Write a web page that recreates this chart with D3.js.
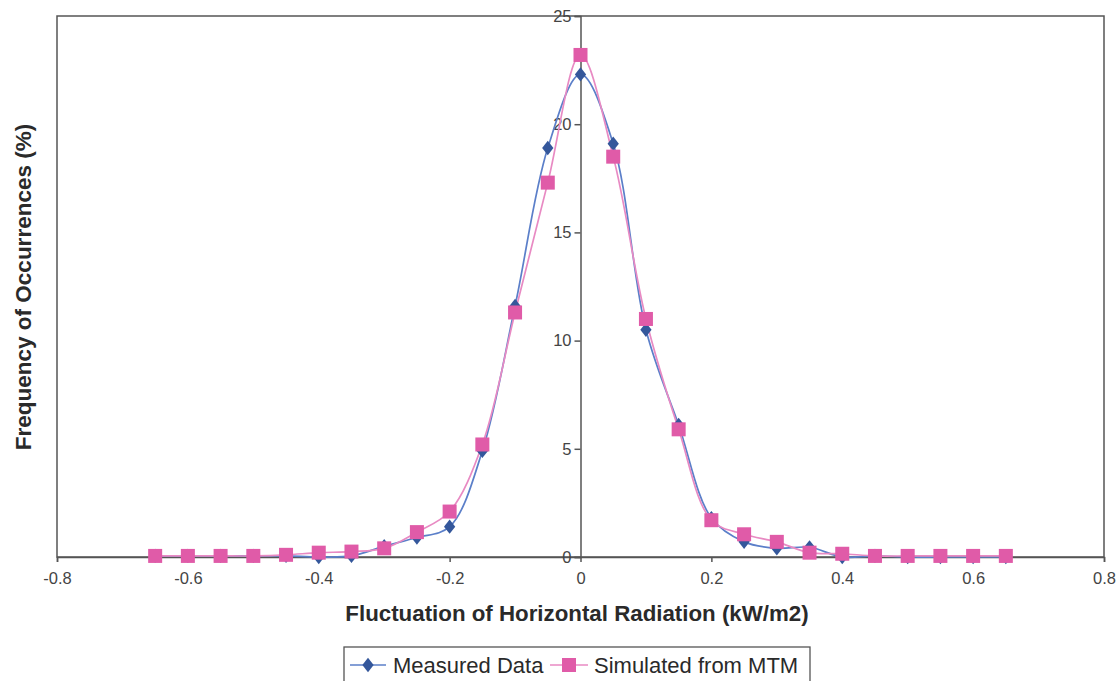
<!DOCTYPE html>
<html>
<head>
<meta charset="utf-8">
<script src="https://cdn.jsdelivr.net/npm/d3@7"></script>
<style>
  html, body { margin: 0; padding: 0; background: #fff; }
  svg { display: block; font-family: "Liberation Sans", Arial, sans-serif; }
</style>
</head>
<body>
<svg id="chart" width="1119" height="681"></svg>
<script>
// ---- data ----
const xValues = [-0.65, -0.6, -0.55, -0.5, -0.45, -0.4, -0.35, -0.3, -0.25, -0.2, -0.15, -0.1, -0.05,
                 0, 0.05, 0.1, 0.15, 0.2, 0.25, 0.3, 0.35, 0.4, 0.45, 0.5, 0.55, 0.6, 0.65];
const measured = [0.05, 0.05, 0.05, 0.05, 0.05, 0.0, 0.05, 0.5, 0.9, 1.4, 4.9, 11.6, 18.9,
                  22.3, 19.1, 10.5, 6.1, 1.8, 0.7, 0.4, 0.45, 0.0, 0.05, 0.0, 0.0, 0.0, 0.0];
const simulated = [0.05, 0.05, 0.05, 0.05, 0.1, 0.2, 0.25, 0.4, 1.15, 2.1, 5.2, 11.3, 17.3,
                   23.2, 18.5, 11.0, 5.9, 1.7, 1.05, 0.7, 0.2, 0.15, 0.05, 0.05, 0.05, 0.05, 0.05];
const xTicks = [-0.8, -0.6, -0.4, -0.2, 0, 0.2, 0.4, 0.6, 0.8];
const xTickLabels = ["-0.8", "-0.6", "-0.4", "-0.2", "0", "0.2", "0.4", "0.6", "0.8"];
const yTicks = [0, 5, 10, 15, 20, 25];
const yTickLabels = ["0", "5", "10", "15", "20", "25"];
const seriesNames = ["Measured Data", "Simulated from MTM"];
const xTitle = "Fluctuation of Horizontal Radiation (kW/m2)";
const yTitle = "Frequency of Occurrences (%)";

// ---- layout ----
const svg = d3.select("#chart");
const L = 57, R = 1104, T = 16, B = 557;
const x = d3.scaleLinear().domain([-0.8, 0.8]).range([L, R]);
const y = d3.scaleLinear().domain([0, 25]).range([B, T]);

const frameColor = "#555";
const textColor = "#444";

// frame
svg.append("rect").attr("x", L).attr("y", T).attr("width", R - L).attr("height", B - T)
  .attr("fill", "none").attr("stroke", frameColor).attr("stroke-width", 1.5);

// x axis at y=0
const xAxis = d3.axisBottom(x).tickValues(xTicks).tickSize(5).tickPadding(10)
  .tickFormat((d, i) => xTickLabels[i]);
const gx = svg.append("g").attr("transform", `translate(0,${y(0)})`).call(xAxis);
gx.attr("font-size", null).attr("font-family", null);
gx.select(".domain").attr("stroke", frameColor).attr("stroke-width", 1.5);
gx.selectAll(".tick line").attr("stroke", frameColor).attr("stroke-width", 1.5);
gx.selectAll(".tick text").attr("fill", textColor).style("font-size", "16.5px")
  .style("font-family", "'Liberation Sans', Arial, sans-serif");

// y axis at x=0
const yAxis = d3.axisLeft(y).tickValues(yTicks).tickSize(6).tickPadding(3)
  .tickFormat((d, i) => yTickLabels[i]);
const gy = svg.append("g").attr("transform", `translate(${x(0)},0)`).call(yAxis);
gy.attr("font-size", null).attr("font-family", null);
gy.select(".domain").attr("stroke", frameColor).attr("stroke-width", 1.5);
gy.selectAll(".tick line").attr("stroke", frameColor).attr("stroke-width", 1.5);
gy.selectAll(".tick text").attr("fill", textColor).style("font-size", "16.5px")
  .style("font-family", "'Liberation Sans', Arial, sans-serif");

// series
const curve = d3.curveCatmullRom.alpha(0.5);
const line = d3.line().x(d => x(d[0])).y(d => y(d[1])).curve(curve);
const mData = xValues.map((v, i) => [v, measured[i]]);
const sData = xValues.map((v, i) => [v, simulated[i]]);

const blueLine = "#5b7fc9", blueMark = "#34579b";
const pinkLine = "#e88ac3", pinkMark = "#e05ba8";

svg.append("path").datum(mData).attr("d", line).attr("fill", "none")
  .attr("stroke", blueLine).attr("stroke-width", 1.7);
svg.append("path").datum(sData).attr("d", line).attr("fill", "none")
  .attr("stroke", pinkLine).attr("stroke-width", 1.7);

const diamond = d3.symbol().type(d3.symbolDiamond2).size(90);
svg.append("g").selectAll("path").data(mData).join("path")
  .attr("d", diamond).attr("transform", d => `translate(${x(d[0])},${y(d[1])}) scale(0.95,1.2)`)
  .attr("fill", blueMark);

svg.append("g").selectAll("rect").data(sData).join("rect")
  .attr("x", d => x(d[0]) - 7).attr("y", d => y(d[1]) - 7)
  .attr("width", 14).attr("height", 14).attr("fill", pinkMark);

// titles
svg.append("text").attr("x", 577).attr("y", 621).attr("text-anchor", "middle")
  .attr("fill", "#2a2a2a").style("font-weight", "bold").style("font-size", "22.3px").text(xTitle);
svg.append("text").attr("transform", "translate(31,287) rotate(-90)").attr("text-anchor", "middle")
  .attr("fill", "#2a2a2a").style("font-weight", "bold").style("font-size", "22.5px").text(yTitle);

// legend
const lg = svg.append("g");
lg.append("rect").attr("x", 344).attr("y", 647).attr("width", 466).attr("height", 40)
  .attr("fill", "#fff").attr("stroke", frameColor).attr("stroke-width", 1.3);
lg.append("line").attr("x1", 350).attr("x2", 386).attr("y1", 665).attr("y2", 665)
  .attr("stroke", blueLine).attr("stroke-width", 1.7);
lg.append("path").attr("d", diamond).attr("transform", "translate(368,665) scale(0.95,1.2)").attr("fill", blueMark);
lg.append("text").attr("x", 393).attr("y", 673).attr("fill", "#2a2a2a").style("font-size", "22px").text(seriesNames[0]);
lg.append("line").attr("x1", 550).attr("x2", 588).attr("y1", 665).attr("y2", 665)
  .attr("stroke", pinkLine).attr("stroke-width", 1.7);
lg.append("rect").attr("x", 562).attr("y", 658).attr("width", 14).attr("height", 14).attr("fill", pinkMark);
lg.append("text").attr("x", 594).attr("y", 673).attr("fill", "#2a2a2a").style("font-size", "22px").text(seriesNames[1]);
</script>
</body>
</html>
